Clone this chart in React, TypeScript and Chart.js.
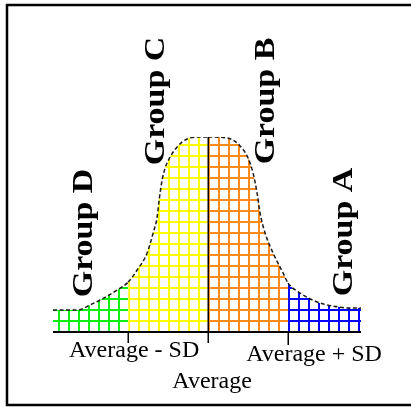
import { useEffect, useRef } from 'react';
import { Chart, registerables } from 'chart.js';
Chart.register(...registerables);

// Curve, x in SD units from the average, y relative height (peak = 100)
const curveX = [-1.94, -1.625, -1.475, -1.35, -1.1375, -1.0, -0.8875, -0.7625, -0.6875, -0.6375, -0.6125, -0.575, -0.5375, -0.475, -0.3875, -0.2625, -0.1, 0, 0.2375, 0.4, 0.5, 0.5625, 0.6125, 0.65, 0.7125, 0.8125, 0.9375, 1.0, 1.15, 1.3625, 1.5625, 1.775, 1.9125];
const curveY = [11.3, 11.3, 13.9, 16.4, 21.5, 25.6, 31.8, 40.5, 50.8, 59.0, 67.7, 78.0, 84.1, 89.7, 94.9, 99.0, 100, 100, 99.5, 95.4, 89.2, 81.5, 71.3, 61.0, 50.8, 40.5, 30.3, 25.1, 20.0, 15.4, 13.3, 12.3, 12.3];

// Region boundaries (SD units) and group names
const regionBounds = [-1, 0, 1];
const groupNames = ['Group D', 'Group C', 'Group B', 'Group A'];
const tickValues = [-1, 0, 1];
const tickLabels = ['Average - SD', 'Average', 'Average + SD'];

// Styles / layout
const regionColors = ['#11ee11', '#ffff00', '#ff8a1c', '#0000ff'];
const groupLayout = [
  { x: 92, y: 233 },
  { x: 164, y: 101 },
  { x: 274, y: 101 },
  { x: 352, y: 232 },
];
const tickLayout = [
  { dx: 6, y: 357, len: 11 },
  { dx: 4, y: 388, len: 11 },
  { dx: 26, y: 361, len: 13 },
];

function makePattern(color: string, w: number, h: number) {
  const c = document.createElement('canvas');
  c.width = w;
  c.height = h;
  const g = c.getContext('2d')!;
  g.fillStyle = '#ffffff';
  g.fillRect(0, 0, w, h);
  g.fillStyle = color;
  g.fillRect(0, 0, 2, h);
  g.fillRect(0, 0, w, 2);
  const p = g.createPattern(c, 'repeat')!;
  try {
    p.setTransform(new DOMMatrix().translate(8, 1));
  } catch (e) {}
  return p;
}

const annotations = {
  id: 'annotations',
  beforeDraw(chart: any) {
    const ctx = chart.ctx;
    ctx.save();
    ctx.fillStyle = '#ffffff';
    ctx.fillRect(0, 0, chart.width, chart.height);
    ctx.restore();
  },
  afterDatasetsDraw(chart: any) {
    const ctx = chart.ctx;
    const xs = chart.scales.x;
    const ys = chart.scales.y;
    const base = ys.getPixelForValue(0);
    ctx.save();
    // baseline
    ctx.strokeStyle = '#000';
    ctx.lineWidth = 2;
    ctx.beginPath();
    ctx.moveTo(xs.getPixelForValue(curveX[0]), base);
    ctx.lineTo(xs.getPixelForValue(curveX[curveX.length - 1]), base);
    ctx.stroke();
    // ticks + average line
    ctx.lineWidth = 1.5;
    tickValues.forEach((v, i) => {
      const px = Math.round(xs.getPixelForValue(v)) + 0.25;
      let top = base;
      if (v === 0) {
        const idx = curveX.indexOf(0);
        top = ys.getPixelForValue(curveY[idx]);
      }
      ctx.beginPath();
      ctx.moveTo(px, top);
      ctx.lineTo(px, base + tickLayout[i].len);
      ctx.stroke();
    });
    // tick labels
    ctx.fillStyle = '#000';
    ctx.font = '24px "Liberation Serif", serif';
    ctx.textAlign = 'center';
    ctx.textBaseline = 'alphabetic';
    tickValues.forEach((v, i) => {
      const px = xs.getPixelForValue(v) + tickLayout[i].dx;
      ctx.fillText(tickLabels[i], px, tickLayout[i].y);
    });
    // group labels
    ctx.font = 'bold 30px "Liberation Serif", serif';
    groupNames.forEach((name, i) => {
      ctx.save();
      ctx.translate(groupLayout[i].x, groupLayout[i].y);
      ctx.rotate(-Math.PI / 2);
      ctx.scale(1.13, 1);
      ctx.fillText(name, 0, 0);
      ctx.restore();
    });
    // frame
    ctx.strokeStyle = '#000';
    ctx.lineWidth = 2.5;
    ctx.strokeRect(7, 5, 410, 400);
    ctx.restore();
  },
};

export default function App() {
  const ref = useRef<HTMLCanvasElement>(null);
  useEffect(() => {
    const canvas = ref.current!;
    const patterns = regionColors.map((c) => makePattern(c, 10, 11));
    const regionOf = (x: number) => {
      let r = 0;
      regionBounds.forEach((b) => {
        if (x >= b - 1e-9) r++;
      });
      return r;
    };
    const chart = new Chart(canvas, {
      type: 'line',
      data: {
        datasets: [
          {
            data: curveX.map((x, i) => ({ x, y: curveY[i] })),
            fill: 'origin',
            backgroundColor: patterns[0] as any,
            borderColor: '#1a1a1a',
            borderWidth: 1.5,
            borderDash: [4, 2.5],
            pointRadius: 0,
            cubicInterpolationMode: 'monotone',
            segment: {
              backgroundColor: (c: any) => patterns[regionOf(c.p0.parsed.x)] as any,
            },
          } as any,
        ],
      },
      options: {
        animation: false,
        responsive: false,
        events: [],
        layout: { padding: { left: 53, right: 50, top: 137, bottom: 75 } },
        plugins: { legend: { display: false }, tooltip: { enabled: false } },
        scales: {
          x: { type: 'linear', display: false, min: curveX[0], max: curveX[curveX.length - 1] },
          y: { type: 'linear', display: false, min: 0, max: 100 },
        },
      },
      plugins: [annotations],
    });
    return () => chart.destroy();
  }, []);
  return (
    <div style={{ position: 'fixed', left: 0, top: 0, width: 411, height: 407, background: '#fff' }}>
      <canvas ref={ref} width={411} height={407} style={{ display: 'block', width: 411, height: 407 }} />
    </div>
  );
}
